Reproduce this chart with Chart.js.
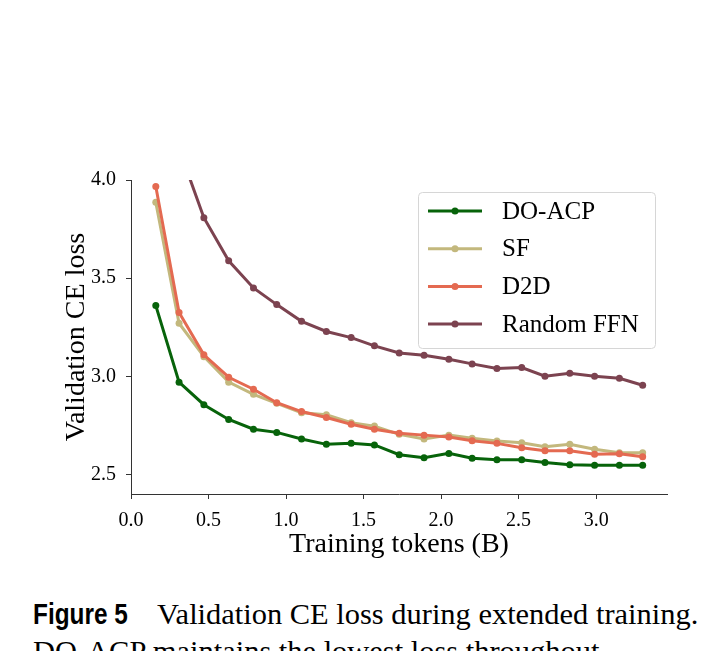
<!DOCTYPE html>
<html>
<head>
<meta charset="utf-8">
<script src="https://cdn.jsdelivr.net/npm/chart.js@4.4.0/dist/chart.umd.min.js"></script>
<style>
  html, body { margin: 0; padding: 0; background: #fff; width: 723px; height: 651px; overflow: hidden; }
  #wrap { position: absolute; left: 0; top: 0; width: 723px; height: 585px; }
  .cap { position: absolute; white-space: nowrap; color: #000; transform-origin: 0 0; }
  .serif { font-family: "Liberation Serif", serif; font-size: 29px; line-height: 29px; transform: scaleX(1.05); }
  .label { font-family: "Liberation Sans", Arial, sans-serif; font-weight: bold; font-size: 29px; line-height: 29px; transform: scaleX(0.84); }
</style>
</head>
<body>
<div id="wrap"><canvas id="lossChart" width="723" height="585"></canvas></div>
<div class="cap label" style="left:33px; top:600px;">Figure 5</div>
<div class="cap serif" style="left:157px; top:600px;">Validation CE loss during extended training.</div>
<div class="cap serif" style="left:33px; top:637px;">DO-ACP maintains the lowest loss throughout.</div>
<script>
// training tokens (billions) at each eval step
const tokens = [0.16, 0.31, 0.47, 0.63, 0.79, 0.94, 1.10, 1.26, 1.42, 1.57, 1.73,
                1.89, 2.05, 2.20, 2.36, 2.52, 2.67, 2.83, 2.99, 3.15, 3.30];

const doAcp = [3.36, 2.97, 2.855, 2.78, 2.73, 2.714, 2.68, 2.653, 2.658, 2.65, 2.60,
               2.585, 2.607, 2.582, 2.575, 2.575, 2.561, 2.549, 2.547, 2.547, 2.547];
const sf = [3.886, 3.27, 3.10, 2.97, 2.908, 2.862, 2.814, 2.804, 2.763, 2.746, 2.704,
            2.68, 2.70, 2.684, 2.67, 2.661, 2.641, 2.653, 2.628, 2.61, 2.61];
const d2d = [3.967, 3.325, 3.109, 2.995, 2.934, 2.865, 2.82, 2.79, 2.755, 2.73, 2.71,
             2.70, 2.69, 2.671, 2.658, 2.636, 2.62, 2.62, 2.602, 2.605, 2.59];
const randomFfn = [5.49, 4.16, 3.808, 3.588, 3.45, 3.365, 3.28, 3.228, 3.197, 3.155, 3.119,
                   3.107, 3.087, 3.063, 3.039, 3.044, 3.00, 3.015, 3.00, 2.99, 2.954];

const xTickValues = [0.0, 0.5, 1.0, 1.5, 2.0, 2.5, 3.0];
const yTickValues = [2.5, 3.0, 3.5, 4.0];

const SERIF = '"Liberation Serif", "Times New Roman", serif';

const toPoints = (ys) => ys.map((y, i) => ({ x: tokens[i], y: y }));

const makeSeries = (label, ys, color, order) => ({
    label: label,
    data: toPoints(ys),
    borderColor: color,
    backgroundColor: color,
    borderWidth: 3,
    pointRadius: 3.5,
    pointHoverRadius: 3.5,
    pointBorderWidth: 0,
    tension: 0,
    order: order
});

// legend drawn inside the plot, matplotlib style
const legendBox = {
    id: 'legendBox',
    afterDraw: (chart) => {
        const ctx = chart.ctx;
        const area = chart.chartArea;
        const x0 = area.right - 249, y0 = area.top + 12, w = 237, h = 156;
        ctx.save();
        ctx.fillStyle = 'rgba(255,255,255,0.85)';
        ctx.strokeStyle = '#d6d6d6';
        ctx.lineWidth = 1;
        ctx.beginPath();
        ctx.roundRect(x0 + 0.5, y0 + 0.5, w, h, 4);
        ctx.fill();
        ctx.stroke();
        chart.data.datasets.forEach((ds, i) => {
            const y = y0 + 19 + i * 37.7;
            ctx.strokeStyle = ds.borderColor;
            ctx.lineWidth = 3;
            ctx.beginPath();
            ctx.moveTo(x0 + 10, y);
            ctx.lineTo(x0 + 64, y);
            ctx.stroke();
            ctx.fillStyle = ds.borderColor;
            ctx.beginPath();
            ctx.arc(x0 + 37, y, 3.5, 0, Math.PI * 2);
            ctx.fill();
            ctx.fillStyle = '#000';
            ctx.font = '25px ' + SERIF;
            ctx.textBaseline = 'middle';
            ctx.textAlign = 'left';
            ctx.fillText(ds.label, x0 + 84, y + 1);
        });
        ctx.restore();
    }
};

const ctx = document.getElementById('lossChart').getContext('2d');
new Chart(ctx, {
    type: 'line',
    data: {
        datasets: [
            makeSeries('DO-ACP', doAcp, '#07630a', 4),
            makeSeries('SF', sf, '#c3b87d', 3),
            makeSeries('D2D', d2d, '#e46a51', 2),
            makeSeries('Random FFN', randomFfn, '#7c4350', 1)
        ]
    },
    options: {
        responsive: false,
        animation: false,
        events: [],
        layout: { padding: { left: 56, top: 180, right: 56, bottom: 20 } },
        plugins: {
            legend: { display: false },
            tooltip: { enabled: false }
        },
        scales: {
            x: {
                type: 'linear',
                min: 0,
                max: 3.457,
                afterBuildTicks: (scale) => { scale.ticks = xTickValues.map(v => ({ value: v })); },
                afterFit: (scale) => { scale.height = 71; },
                border: { color: '#333', width: 1 },
                grid: { drawOnChartArea: false, drawTicks: true, tickLength: 5, color: '#333' },
                ticks: { color: '#000', padding: 10, maxRotation: 0, font: { family: SERIF, size: 20 },
                         callback: (v) => Number(v).toFixed(1) },
                title: { display: true, text: 'Training tokens (B)', color: '#000',
                         font: { family: SERIF, size: 28 }, padding: { top: 0, bottom: 4 } }
            },
            y: {
                type: 'linear',
                min: 2.40,
                max: 4.0,
                afterBuildTicks: (scale) => { scale.ticks = yTickValues.map(v => ({ value: v })); },
                afterFit: (scale) => { scale.width = 75; },
                border: { color: '#333', width: 1 },
                grid: { drawOnChartArea: false, drawTicks: true, tickLength: 5, color: '#333' },
                ticks: { color: '#000', padding: 10, font: { family: SERIF, size: 20 },
                         callback: (v) => Number(v).toFixed(1) },
                title: { display: true, text: 'Validation CE loss', color: '#000',
                         font: { family: SERIF, size: 28 }, padding: { top: 4, bottom: 0 } }
            }
        }
    },
    plugins: [legendBox]
});
</script>
</body>
</html>
